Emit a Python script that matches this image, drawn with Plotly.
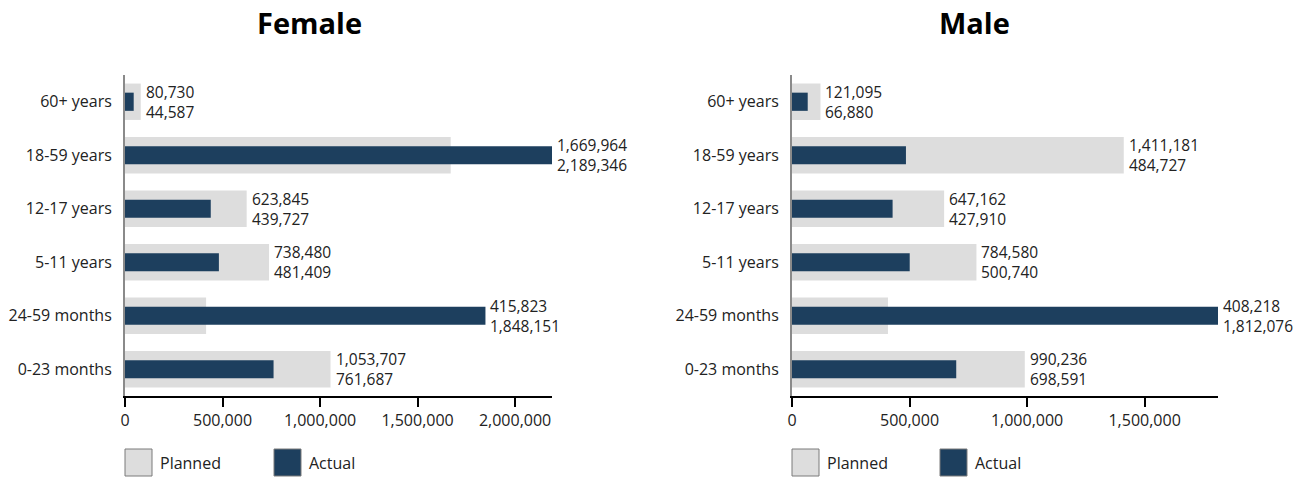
import plotly.graph_objects as go

categories = ["60+ years", "18-59 years", "12-17 years", "5-11 years", "24-59 months", "0-23 months"]
female_planned = [80730, 1669964, 623845, 738480, 415823, 1053707]
female_actual = [44587, 2189346, 439727, 481409, 1848151, 761687]
male_planned = [121095, 1411181, 647162, 784580, 408218, 990236]
male_actual = [66880, 484727, 427910, 500740, 1812076, 698591]
titles = ["Female", "Male"]
tick_values = [0, 500000, 1000000, 1500000, 2000000]

W, H = 1309, 477
PLANNED_C = "#dddddd"
ACTUAL_C = "#1d3f5e"
FONT = "Open Sans"
TXT = "#222222"
FS = 16
LFS = 15.5

fig = go.Figure()

panels = [
    (female_planned, female_actual, "x", "y", "xaxis", "yaxis", (125, 552)),
    (male_planned, male_actual, "x2", "y2", "xaxis2", "yaxis2", (792, 1218)),
]

ytop, ybot = 75, 396
for planned, actual, xr, yr, xa, ya, (x0, x1) in panels:
    fig.add_trace(go.Bar(y=categories, x=planned, orientation="h", width=0.68,
                         marker=dict(color=PLANNED_C, line=dict(width=0)),
                         xaxis=xr, yaxis=yr, name="Planned", showlegend=False, hoverinfo="x+y"))
    fig.add_trace(go.Bar(y=categories, x=actual, orientation="h", width=0.34,
                         marker=dict(color=ACTUAL_C, line=dict(width=0)),
                         xaxis=xr, yaxis=yr, name="Actual", showlegend=False, hoverinfo="x+y"))
    vmax = max(max(planned), max(actual))
    fig.layout[xa] = dict(domain=[x0 / W, x1 / W], range=[0, vmax], anchor=yr,
                          tickvals=tick_values, tickformat=",d",
                          showline=True, linecolor="black", linewidth=2,
                          ticks="outside", ticklen=9, tickwidth=2, tickcolor="black",
                          showgrid=False, zeroline=False, automargin=False,
                          tickfont=dict(family=FONT, size=FS, color=TXT))
    fig.layout[ya] = dict(domain=[1 - ybot / H, 1 - ytop / H], anchor=xr,
                          categoryorder="array", categoryarray=categories,
                          autorange="reversed",
                          showline=True, linecolor="#8a8a8a", linewidth=2,
                          ticks="outside", ticklen=8, tickcolor="rgba(0,0,0,0)",
                          showgrid=False, zeroline=False, automargin=False,
                          tickfont=dict(family=FONT, size=FS, color=TXT))
    for c, p, a in zip(categories, planned, actual):
        fig.add_annotation(x=max(p, a), y=c, xref=xr, yref=yr,
                           text=f"{p:,}<br>{a:,}", showarrow=False,
                           xanchor="left", yanchor="middle", align="left",
                           xshift=3, borderpad=1,
                           font=dict(family=FONT, size=LFS, color=TXT))

# titles
for t, cx in zip(titles, [309, 975]):
    fig.add_annotation(x=cx / W, y=1 - 22 / H, xref="paper", yref="paper", text=f"<b>{t}</b>",
                       showarrow=False, xanchor="center", yanchor="middle",
                       font=dict(family=FONT, size=29, color="black"))

# legends
legend_sets = [(125, 274), (792, 940)]
for lx1, lx2 in legend_sets:
    for sx, col, lab in [(lx1, PLANNED_C, "Planned"), (lx2, ACTUAL_C, "Actual")]:
        fig.add_shape(type="rect", xref="paper", yref="paper",
                      x0=sx / W, x1=(sx + 27) / W, y0=1 - 476 / H, y1=1 - 449 / H,
                      fillcolor=col, line=dict(color="#7a7a7a", width=1))
        fig.add_annotation(x=(sx + 33) / W, y=1 - 463 / H, xref="paper", yref="paper",
                           text=lab, showarrow=False, xanchor="left", yanchor="middle",
                           font=dict(family=FONT, size=FS, color=TXT))

fig.update_layout(width=W, height=H, margin=dict(l=0, r=0, t=0, b=0),
                  barmode="overlay", plot_bgcolor="white", paper_bgcolor="white",
                  showlegend=False, font=dict(family=FONT, size=FS, color=TXT))

fig.write_html("out.html")
